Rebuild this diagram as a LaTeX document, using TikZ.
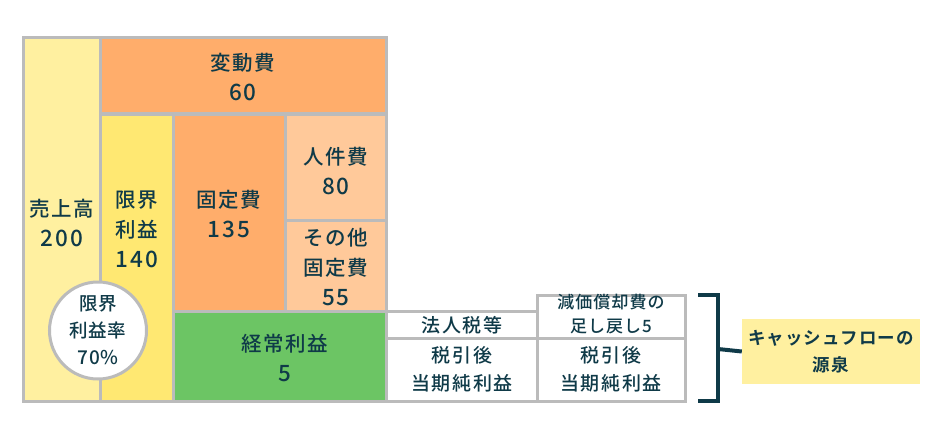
\documentclass[tikz,border=0pt]{standalone}
\usepackage{fontspec}
\setmainfont{Noto Sans CJK JP}[UprightFont=* Medium, BoldFont=* Bold]
\definecolor{lg}{HTML}{BBBBBB}
\definecolor{navy}{HTML}{0F3A48}
\definecolor{yA}{HTML}{FFF0A0}
\definecolor{yB}{HTML}{FFE872}
\definecolor{orA}{HTML}{FFAD6B}
\definecolor{orB}{HTML}{FFC99A}
\definecolor{grn}{HTML}{6CC564}
\newcommand{\nm}[1]{{\fontsize{22.5}{30}\selectfont #1}}
\begin{document}
\begin{tikzpicture}[x=1pt,y=-1pt,
  cell/.style={draw=lg, line width=3pt},
  txt/.style={text=navy, align=center, inner sep=0pt, font=\fontsize{20.5}{30}\selectfont\addfontfeature{LetterSpace=8}},
  mid/.style={text=navy, align=center, inner sep=0pt, font=\fontsize{19}{28}\selectfont\addfontfeature{LetterSpace=8}},
  sml/.style={text=navy, align=center, inner sep=0pt, font=\fontsize{17}{24}\selectfont\addfontfeature{LetterSpace=6}}]
\useasboundingbox (0,0) rectangle (941,441);
% cells
\path[cell, fill=yA]  (23,37.5) rectangle (100,401.5);
\path[cell, fill=orA] (100,37.5) rectangle (386.5,114);
\path[cell, fill=yB]  (100,114) rectangle (173.5,401.5);
\path[cell, fill=orA] (173.5,114) rectangle (285,311);
\path[cell, fill=orB] (285,114) rectangle (386.5,220.5);
\path[cell, fill=orB] (285,220.5) rectangle (386.5,311);
\path[cell, fill=grn] (173.5,311) rectangle (386.5,401.5);
\path[cell, fill=white] (386.5,311) rectangle (537,338.5);
\path[cell, fill=white] (386.5,338.5) rectangle (537,401.5);
\path[cell, fill=white] (537,295) rectangle (685.5,338.5);
\path[cell, fill=white] (537,338.5) rectangle (685.5,401.5);
% texts
\node[txt] (hendo) at (243,77) {変動費\\\nm{60}};
\node[txt] (uri) at (62,222.5) {売上高\\\nm{200}};
\node[txt] (genkai) at (137,229) {限界\\利益\\\nm{140}};
\node[txt] (kotei) at (229,214.5) {固定費\\\nm{135}};
\node[txt] (jinken) at (336,171) {人件費\\\nm{80}};
\node[txt] (sonota) at (336,267.5) {その他\\固定費\\\nm{55}};
\node[txt] (keijo) at (285,357.5) {経常利益\\\nm{5}};
\node[mid] (hojin) at (462,325) {法人税等};
\node[mid] (zei1) at (462,369.5) {税引後\\当期純利益};
\node[sml] (genka) at (611,314) {減価償却費の\\足し戻し5};
\node[mid] (zei2) at (611,369.5) {税引後\\当期純利益};
% circle
\node[circle, draw=lg, line width=3pt, fill=white, minimum size=97pt, inner sep=0pt,
      text=navy, align=center, font=\fontsize{18.5}{27}\selectfont\addfontfeature{LetterSpace=4}] (rate) at (98,330.5) {限界\\利益率\\{\fontsize{19}{27}\selectfont 70\%}};
% bracket and cash-flow box
\node[fill=yA, minimum width=178pt, minimum height=65pt, inner sep=0pt, text=navy, align=center,
      font=\fontsize{17.5}{27}\selectfont\bfseries\addfontfeature{LetterSpace=6}] (cf) at (831,351.5) {キャッシュフローの\\源泉};
\coordinate (bt) at (698,295);
\coordinate (bb) at (698,401);
\coordinate (bm) at (718,349);
\draw[navy, line width=4pt] (bt) -- (718,295) -- (718,401) -- (bb);
\draw[navy, line width=4pt] (bm) -- (cf.west);
\end{tikzpicture}
\end{document}
